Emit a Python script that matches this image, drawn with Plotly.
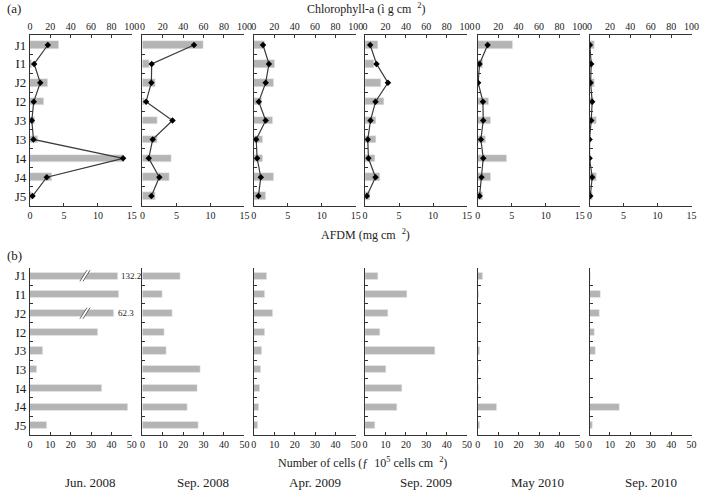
import plotly.graph_objects as go

sites = ["J1", "I1", "J2", "I2", "J3", "I3", "I4", "J4", "J5"]
months = ["Jun. 2008", "Sep. 2008", "Apr. 2009", "Sep. 2009", "May 2010", "Sep. 2010"]

# AFDM (mg cm-2), bars in panel (a)
afdm = [
    [4.3, 0.3, 2.6, 2.1, 0.8, 1.15, 13.8, 3.3, 0.3],
    [9.0, 1.1, 1.9, 0.25, 2.2, 2.25, 4.2, 4.0, 1.85],
    [1.55, 3.05, 2.95, 1.2, 2.75, 1.3, 1.35, 2.9, 1.7],
    [1.95, 1.27, 2.34, 2.78, 1.66, 1.66, 1.46, 2.24, 0.68],
    [5.1, 0.78, 0.15, 1.56, 1.95, 1.17, 4.2, 1.95, 0.73],
    [0.73, 0.49, 0.68, 0.58, 0.97, 0.15, 0.2, 1.07, 0.44],
]
# Chlorophyll-a, line in panel (a)
chl = [
    [17.6, 4.2, 10.2, 3.8, 1.9, 3.5, 91.4, 16.6, 2.6],
    [50.6, 9.1, 8.8, 3.6, 29.5, 10.1, 6.2, 16.6, 8.8],
    [9.0, 14.8, 11.6, 4.8, 11.6, 2.3, 3.2, 6.8, 4.5],
    [5.0, 11.2, 22.4, 10.2, 5.3, 2.6, 3.3, 10.2, 1.7],
    [9.6, 1.7, 0.3, 5.0, 5.3, 3.0, 5.3, 3.6, 1.7],
    [0.3, 1.6, 1.0, 2.6, 1.6, 0.0, 0.0, 2.6, 0.7],
]
# Number of cells, panel (b)
cells = [
    [132.2, 43.8, 62.3, 33.1, 6.2, 3.4, 35.1, 48.1, 8.3],
    [18.8, 9.9, 14.9, 10.7, 11.9, 28.2, 26.9, 22.1, 27.3],
    [6.6, 5.2, 9.2, 5.3, 3.7, 3.4, 2.9, 2.3, 2.1],
    [6.6, 20.7, 11.4, 7.2, 34.1, 10.3, 18.2, 15.9, 4.7],
    [2.25, 0.5, 0.2, 0.2, 1.0, 0.5, 0.3, 9.3, 0.8],
    [0.3, 5.3, 5.1, 2.4, 2.9, 0.0, 0.0, 14.7, 1.6],
]
# drawn (truncated) length of the broken bars in Jun. 2008
broken_drawn = {"J1": 42.9, "J2": 41.4}

W, H = 709, 491
FONT = "Liberation Serif"
BAR = "#b4b4b4"
AX = "#333333"
xs = [27.3, 141.6, 254.8, 367.8, 482.3, 595.8]
pw = 103.6
top_dom = [1 - 205.7 / H, 1 - 35 / H]
bot_dom = [1 - 435 / H, 1 - 267.7 / H]

fig = go.Figure()
layout = {}
tickfont = dict(family=FONT, size=10, color="#222")

for i in range(6):
    dom = [xs[i] / W, (xs[i] + pw) / W]
    # ---- top row
    xa, xc, ya = f"x{i+1}", f"x{i+7}", f"y{i+1}"
    fig.add_trace(go.Bar(x=afdm[i], y=sites, orientation="h", marker_color=BAR,
                         width=0.4, xaxis=xa, yaxis=ya, showlegend=False))
    fig.add_trace(go.Scatter(x=chl[i], y=sites, mode="lines+markers",
                             line=dict(color="#3a3a3a", width=1.2),
                             marker=dict(color="black", size=5, symbol="diamond"),
                             xaxis=xc, yaxis=ya, showlegend=False))
    layout[f"xaxis{i+1}"] = dict(domain=dom, anchor=ya, range=[0, 15], tickvals=[0, 5, 10, 15],
                                 showline=True, linecolor=AX, linewidth=1, ticks="inside",
                                 ticklen=3, tickcolor=AX, showgrid=False, zeroline=False,
                                 tickfont=tickfont, fixedrange=True)
    layout[f"xaxis{i+7}"] = dict(domain=dom, anchor=ya, overlaying=xa, side="top",
                                 range=[0, 100], tickvals=[0, 20, 40, 60, 80, 100],
                                 showline=True, linecolor=AX, linewidth=1, ticks="inside",
                                 ticklen=3, tickcolor=AX, showgrid=False, zeroline=False,
                                 tickfont=tickfont)
    layout[f"yaxis{i+1}"] = dict(domain=top_dom, anchor=xa, type="category",
                                 categoryorder="array", categoryarray=sites,
                                 range=[8.51, -0.53], showline=True, linecolor=AX,
                                 linewidth=1, ticks="inside", ticklen=3, tickcolor=AX,
                                 tickson="boundaries", showgrid=False,
                                 showticklabels=(i == 0),
                                 tickfont=dict(family=FONT, size=13, color="#222"))
    # ---- bottom row
    xb, yb = f"x{i+13}", f"y{i+7}"
    vals = cells[i]
    if i == 0:
        vals = [broken_drawn.get(s, v) for s, v in zip(sites, cells[i])]
    fig.add_trace(go.Bar(x=vals, y=sites, orientation="h", marker_color=BAR,
                         width=0.38, xaxis=xb, yaxis=yb, showlegend=False))
    layout[f"xaxis{i+13}"] = dict(domain=dom, anchor=yb, range=[0, 50],
                                  tickvals=[0, 10, 20, 30, 40, 50],
                                  showline=True, linecolor=AX, linewidth=1, ticks="inside",
                                  ticklen=3, tickcolor=AX, showgrid=False, zeroline=False,
                                  tickfont=tickfont)
    layout[f"yaxis{i+7}"] = dict(domain=bot_dom, anchor=xb, type="category",
                                 categoryorder="array", categoryarray=sites,
                                 range=[8.5, -0.43], showline=True, linecolor=AX,
                                 linewidth=1, ticks="inside", ticklen=3, tickcolor=AX,
                                 tickson="boundaries", showgrid=False,
                                 showticklabels=(i == 0),
                                 tickfont=dict(family=FONT, size=13, color="#222"))

shapes = []
annotations = []
# break marks and value labels for truncated bars
for s, drawn in broken_drawn.items():
    k = sites.index(s)
    real = cells[0][k]
    shapes.append(dict(type="path", xref="x13", yref="y7",
                       path=f"M 24.5 {k+0.3} L 28 {k-0.3} L 29.5 {k-0.3} L 26 {k+0.3} Z",
                       fillcolor="white", line=dict(width=0)))
    for x0 in (24.5, 26):
        shapes.append(dict(type="line", xref="x13", yref="y7", x0=x0, y0=k + 0.3,
                           x1=x0 + 3.5, y1=k - 0.3, line=dict(color="#444", width=0.8)))
    annotations.append(dict(x=drawn + 0.6, y=s, xref="x13", yref="y7", text=f"{real}",
                            showarrow=False, xanchor="left", yanchor="middle",
                            font=dict(family=FONT, size=9, color="#222")))

def txt(x, y, t, size=12, anchor="center"):
    annotations.append(dict(x=x / W, y=1 - y / H, xref="paper", yref="paper", text=t,
                            showarrow=False, xanchor=anchor, yanchor="middle",
                            font=dict(family=FONT, size=size, color="#222")))

txt(2, 8, "(a)", 13, "left")
txt(2, 256, "(b)", 13, "left")
txt(369, 8, "Chlorophyll-a (ì g cm  <sup>2</sup>)", 12)
txt(368, 234, "AFDM (mg cm  <sup>2</sup>)", 12)
txt(365, 462, "Number of cells (ƒ  10<sup>5</sup> cells cm  <sup>2</sup>)", 12)
for c, m in zip([89, 203, 317, 430, 543, 658], months):
    txt(c, 482, m, 13)

fig.update_layout(width=W, height=H, margin=dict(l=0, r=0, t=0, b=0),
                  plot_bgcolor="white", paper_bgcolor="white", bargap=0,
                  shapes=shapes, annotations=annotations, **layout)
fig.write_html("out.html")
